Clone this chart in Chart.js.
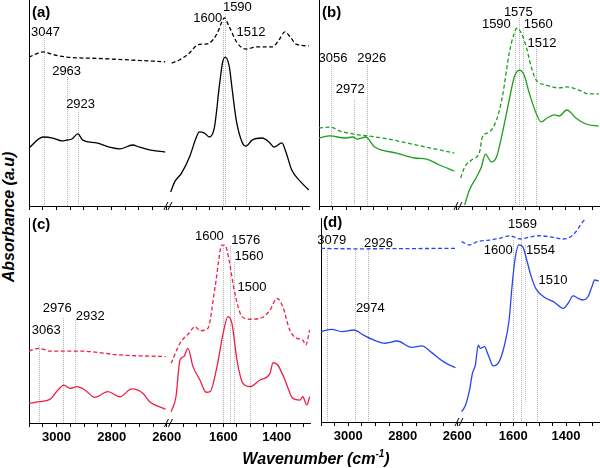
<!DOCTYPE html>
<html>
<head>
<meta charset="utf-8">
<script src="https://cdn.jsdelivr.net/npm/chart.js@4"></script>
<style>
  body { margin: 0; background: #fff; }
  #wrap { position: relative; width: 600px; height: 468px; overflow: hidden; background: #fff; }
  canvas { position: absolute; }
  .plabel { position: absolute; font: bold 15px Arial, "Liberation Sans", sans-serif; color: #000; }
  .ytitle { position: absolute; left: 9px; top: 217px; transform: translate(-50%, -50%) rotate(-90deg);
    font: italic bold 16px Arial, "Liberation Sans", sans-serif; white-space: nowrap; }
  .xtitle { position: absolute; left: 316px; top: 458px; transform: translate(-50%, -50%);
    font: italic bold 16px Arial, "Liberation Sans", sans-serif; white-space: nowrap; }
  .xtitle sup { font-size: 10px; }
</style>
</head>
<body>
<div id="wrap">
  <canvas id="chartA" width="298" height="212" style="left:19px;top:0px"></canvas>
  <canvas id="chartB" width="298" height="212" style="left:309px;top:0px"></canvas>
  <canvas id="chartC" width="299" height="243" style="left:19px;top:210px"></canvas>
  <canvas id="chartD" width="296" height="242" style="left:311px;top:210px"></canvas>
  <div class="plabel" style="left:32px;top:3px">(a)</div>
  <div class="plabel" style="left:322px;top:3px">(b)</div>
  <div class="plabel" style="left:32px;top:215px">(c)</div>
  <div class="plabel" style="left:323px;top:213px">(d)</div>
  <div class="ytitle">Absorbance (a.u)</div>
  <div class="xtitle">Wavenumber (cm<sup>-1</sup>)</div>
</div>
<script>
// tick labels shown on the bottom axes
const xTickLabels = [3000, 2800, 2600, 1600, 1400];

// (a) black
const aDashWn = [3100, 3049, 3006, 2962, 2843, 2734, 2604, 1792, 1763, 1725, 1695, 1669, 1650, 1620, 1605, 1594, 1575, 1545, 1512, 1474, 1414, 1388, 1366, 1343, 1324, 1276];
const aDashAbs = [72.3, 74.8, 73.3, 72.3, 71.6, 70.9, 70.0, 69.4, 70.9, 74.3, 78.2, 78.6, 79.1, 84.0, 88.8, 91.3, 86.9, 79.1, 76.2, 77.2, 77.2, 80.6, 84.5, 81.6, 78.6, 77.7];
const aSolidWn = [3100, 3049, 3013, 2980, 2962, 2944, 2922, 2904, 2854, 2807, 2770, 2723, 2698, 2661, 2604, 1796, 1781, 1755, 1725, 1699, 1688, 1669, 1650, 1631, 1613, 1601, 1590, 1575, 1564, 1549, 1527, 1512, 1489, 1452, 1425, 1407, 1377, 1362, 1340, 1306, 1276];
const aSolidAbs = [28.2, 33.5, 33, 31.6, 32, 32.5, 35, 32, 30.6, 28.6, 27.7, 29.6, 28.6, 27.2, 26.2, 6.8, 11.7, 16, 23.8, 33.5, 36, 35.4, 33.5, 38.3, 57.8, 69.4, 72.3, 67.5, 56.3, 41.7, 31, 29.1, 32, 33, 31, 28.6, 30.6, 26.2, 17.5, 11.7, 7.8];
const aPeaks = [3047, 2963, 2923, 1600, 1590, 1512];

// (b) green
const bDashWn = [3100, 3060, 3024, 2977, 2868, 2745, 2607, 1796, 1781, 1755, 1725, 1714, 1688, 1661, 1639, 1613, 1594, 1583, 1568, 1549, 1530, 1512, 1474, 1425, 1396, 1351, 1313, 1276];
const bDashAbs = [37.9, 38.3, 36.4, 35, 33, 29.6, 25.7, 13.6, 18.9, 22.3, 26.2, 33.5, 35.9, 41.7, 52.9, 74.3, 84, 86.4, 84, 77.2, 67.5, 61.2, 58.7, 57.3, 57.8, 56.3, 54.4, 54.4];
const bSolidWn = [3100, 3060, 3006, 2977, 2962, 2930, 2897, 2817, 2752, 2708, 2661, 2607, 1781, 1763, 1736, 1718, 1703, 1680, 1661, 1639, 1613, 1594, 1575, 1557, 1538, 1512, 1493, 1470, 1444, 1425, 1396, 1362, 1324, 1276];
const bSolidAbs = [33, 34, 33, 33.5, 32.5, 33.5, 28.6, 25.7, 23.3, 22.8, 19.9, 17, 0.5, 7.8, 14.1, 18.9, 25.2, 21.4, 23.8, 35.4, 51.5, 62.6, 66, 63.6, 54.9, 45.1, 40.8, 42.7, 44.2, 43.7, 46.6, 42.7, 39.8, 38.8];
const bPeaks = [3056, 2972, 2926, 1590, 1575, 1560, 1512];

// (c) red
const cDashWn = [3100, 3064, 3024, 2915, 2770, 2604, 1796, 1763, 1729, 1706, 1688, 1658, 1631, 1605, 1594, 1579, 1557, 1530, 1500, 1452, 1425, 1399, 1377, 1351, 1324, 1302, 1291, 1276];
const cDashAbs = [35.1, 36.4, 35.1, 35.1, 33.2, 32.4, 29.1, 38.9, 43.8, 47, 45, 46.2, 66.5, 86.8, 86.8, 79.5, 63.3, 51.9, 50.6, 51.6, 55.1, 60.8, 56.7, 45.4, 41.3, 40.5, 38, 45.4];
const cSolidWn = [3100, 3064, 3024, 2995, 2973, 2951, 2926, 2897, 2861, 2814, 2770, 2727, 2687, 2662, 2604, 1796, 1778, 1763, 1748, 1733, 1714, 1688, 1665, 1650, 1624, 1601, 1583, 1568, 1549, 1527, 1500, 1463, 1425, 1414, 1396, 1369, 1339, 1313, 1302, 1287, 1276];
const cSolidAbs = [9.6, 10.4, 11.5, 16.1, 18.5, 16.9, 17.7, 16.1, 12.5, 15.3, 12.8, 16.6, 14.5, 10.4, 6.7, 5.5, 12.8, 30.7, 32.4, 36.4, 27.5, 21, 15, 15.3, 27.5, 43.7, 51.9, 48.6, 30.7, 19.4, 17.7, 21, 24.2, 29.4, 28.3, 21, 12, 11.2, 12.8, 8.8, 12.8];
const cPeaks = [3063, 2976, 2932, 1600, 1576, 1560, 1500];

// (d) blue
const dDashWn = [3100, 2980, 2800, 2604, 1796, 1766, 1736, 1691, 1654, 1616, 1598, 1572, 1542, 1504, 1448, 1410, 1373, 1354, 1336, 1317, 1276];
const dDashAbs = [85.1, 84.9, 85.0, 85.1, 88.4, 86.8, 88.4, 89.2, 90, 91.2, 90.8, 89.7, 90.5, 91.3, 90.5, 89.7, 91.7, 94.9, 98.2, 101, 104];
const dSolidWn = [3100, 3060, 3024, 2980, 2944, 2912, 2864, 2821, 2767, 2730, 2694, 2651, 2607, 1796, 1781, 1766, 1755, 1744, 1733, 1725, 1710, 1695, 1676, 1654, 1635, 1616, 1605, 1594, 1579, 1564, 1549, 1534, 1515, 1485, 1448, 1410, 1392, 1373, 1354, 1336, 1317, 1302, 1291, 1276];
const dSolidAbs = [44.3, 45.4, 44.3, 45.1, 42.6, 40.5, 38.6, 39.7, 36.6, 37.3, 34, 29.6, 26.6, 5.1, 8.3, 15.7, 23.9, 27.9, 37.7, 36.1, 36.9, 32.8, 27.5, 29.6, 36.9, 50, 66.3, 79.4, 86.8, 85.9, 79.4, 72.1, 65.5, 61.4, 59, 55.7, 58.2, 61.8, 60.6, 59.8, 61.4, 66.3, 69.6, 69.1];
const dPeaks = [3079, 2974, 2926, 1600, 1569, 1554, 1510];

// broken axis: 3100-2600 on the left, 1800-1275 on the right
const GAP = 12;
const RIGHT_K = 0.967;
function toU(wn) {
  return wn > 2000 ? 3100 - wn : 500 + GAP + (1800 - wn) * RIGHT_K;
}
function fromU(u) {
  return u <= 500 + GAP / 2 ? 3100 - u : 1800 - (u - 500 - GAP) / RIGHT_K;
}
const X_MAX = toU(1275);

const tickWns = [];
for (let w = 3100; w >= 2600; w -= 50) tickWns.push(w);
for (let w = 1750; w >= 1300; w -= 50) tickWns.push(w);

// where the peak labels sit (label height, line top, line bottom in y units, x shift in px)
const layoutA = { labelY: [84.5, 65.5, 49.5, 91.3, 96.6, 84.5], lineTop: [81.5, 62.6, 45.6, 89.3, 93.2, 80.6], dx: [2, 0, 3, -15, 12, 5] };
const layoutB = { labelY: [71.4, 56.8, 71.4, 88.3, 94.2, 88.3, 79.1], lineTop: [68.4, 51.5, 68.4, 86.4, 91.3, 86.4, 76.2], dx: [2, -4, 5, -19, -1, 15, 6] };
const layoutC = { labelY: [45.4, 56.1, 52.2, 91.2, 89.3, 81.5, 66.3], lineTop: [38, 51.2, 50.2, 86.3, 86.3, 78.5, 61.5], dx: [7, -6, 15, -14, 16, 15, 2] };
const layoutD = { labelY: [89.2, 55.9, 87.7, 84.3, 97, 84.3, 69.6], lineTop: [85.3, 85.3, 85.3, 89.2, 93.1, 86.8, 64.7], lineBottom: [0, 0, 0, 0, 0, 9.8, 0], dx: [5, 15, 10, -15, 1, 15, 16] };

function segment(wns, abs, left) {
  const pts = [];
  wns.forEach((w, i) => {
    if ((w > 2000) === left) pts.push({ x: toU(w), y: abs[i] });
  });
  return pts;
}

function curve(wns, abs, color, dashed) {
  return [true, false].map((left) => ({
    data: segment(wns, abs, left),
    borderColor: color,
    borderWidth: 1.3,
    borderDash: dashed ? [4, 2.5] : [],
    pointRadius: 0,
    cubicInterpolationMode: "monotone",
    fill: false,
  }));
}

const breakPlugin = {
  id: "axisBreak",
  afterDraw(chart) {
    const ctx = chart.ctx;
    const px = chart.scales.x.getPixelForValue(500 + GAP / 2);
    const y = chart.chartArea.bottom;
    ctx.save();
    ctx.strokeStyle = "#000";
    ctx.lineWidth = 1;
    [-2, 2].forEach((o) => {
      ctx.beginPath();
      ctx.moveTo(px + o - 2, y + 4);
      ctx.lineTo(px + o + 2, y - 4);
      ctx.stroke();
    });
    ctx.restore();
  },
};

const peakPlugin = {
  id: "peaks",
  beforeDatasetsDraw(chart, args, opts) {
    const { ctx, scales } = chart;
    ctx.save();
    ctx.strokeStyle = "#b4b4b4";
    ctx.lineWidth = 1;
    ctx.setLineDash([1, 1]);
    opts.peaks.forEach((wn, i) => {
      const x = Math.round(scales.x.getPixelForValue(toU(wn))) + 0.5;
      const bottom = opts.layout.lineBottom ? opts.layout.lineBottom[i] : 0;
      ctx.beginPath();
      ctx.moveTo(x, scales.y.getPixelForValue(opts.layout.lineTop[i]));
      ctx.lineTo(x, scales.y.getPixelForValue(bottom));
      ctx.stroke();
    });
    ctx.restore();
  },
  afterDraw(chart, args, opts) {
    const { ctx, scales } = chart;
    ctx.save();
    ctx.fillStyle = "#000";
    ctx.font = '13px Arial, "Liberation Sans", sans-serif';
    ctx.textAlign = "center";
    ctx.textBaseline = "middle";
    opts.peaks.forEach((wn, i) => {
      const x = scales.x.getPixelForValue(toU(wn)) + opts.layout.dx[i];
      ctx.fillText(String(wn), x, scales.y.getPixelForValue(opts.layout.labelY[i]));
    });
    ctx.restore();
  },
};

function createPanel(id, datasets, peaks, layout, padTop, axisHeight, showLabels) {
  const ctx = document.getElementById(id).getContext("2d");
  return new Chart(ctx, {
    type: "line",
    data: { datasets: datasets },
    options: {
      responsive: false,
      animation: false,
      layout: { padding: { left: 10, right: 8, top: padTop, bottom: 0 } },
      plugins: {
        legend: { display: false },
        tooltip: { enabled: false },
        peaks: { peaks: peaks, layout: layout },
      },
      scales: {
        x: {
          type: "linear",
          min: 0,
          max: X_MAX,
          afterBuildTicks: (scale) => {
            scale.ticks = tickWns.map((w) => ({ value: toU(w) }));
          },
          afterFit: (scale) => {
            scale.height = axisHeight;
          },
          grid: { display: true, drawOnChartArea: false, drawTicks: true, tickLength: 4, color: "#000" },
          border: { display: true, color: "#000", width: 1 },
          ticks: {
            autoSkip: false,
            maxRotation: 0,
            padding: 3,
            color: "#000",
            font: { family: 'Arial, "Liberation Sans", sans-serif', size: 13, weight: "bold" },
            callback: (value) => {
              if (!showLabels) return "";
              const wn = Math.round(fromU(value));
              return xTickLabels.includes(wn) ? String(wn) : "";
            },
          },
        },
        y: {
          min: 0,
          max: 100,
          afterFit: (scale) => {
            scale.width = 0;
          },
          grid: { display: false },
          ticks: { display: false },
          border: { display: true, color: "#000", width: 1 },
        },
      },
    },
    plugins: [peakPlugin, breakPlugin],
  });
}

document.addEventListener("DOMContentLoaded", function () {
  createPanel("chartA",
    [...curve(aDashWn, aDashAbs, "#000", true), ...curve(aSolidWn, aSolidAbs, "#000", false)],
    aPeaks, layoutA, 0, 6, false);
  createPanel("chartB",
    [...curve(bDashWn, bDashAbs, "#1e9e1e", true), ...curve(bSolidWn, bSolidAbs, "#1e9e1e", false)],
    bPeaks, layoutB, 0, 6, false);
  createPanel("chartC",
    [...curve(cDashWn, cDashAbs, "#f01e46", true), ...curve(cSolidWn, cSolidAbs, "#f01e46", false)],
    cPeaks, layoutC, 8, 30, true);
  createPanel("chartD",
    [...curve(dDashWn, dDashAbs, "#2846f0", true), ...curve(dSolidWn, dSolidAbs, "#2846f0", false)],
    dPeaks, layoutD, 8, 30, true);
});
</script>
</body>
</html>
